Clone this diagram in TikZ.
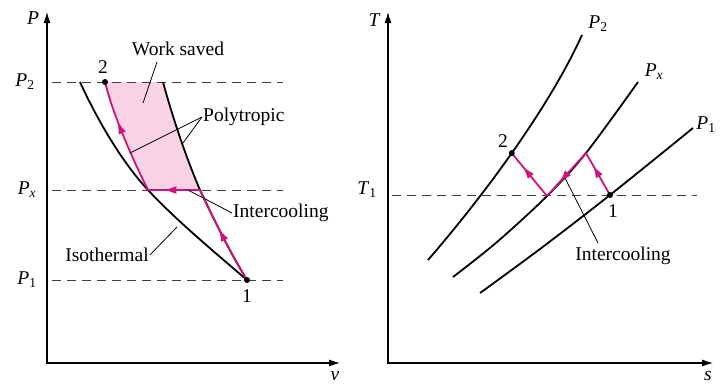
\documentclass[tikz,border=0pt]{standalone}
\usepackage{fontspec}
\setmainfont{Liberation Serif}
\usetikzlibrary{arrows.meta,decorations.markings}
\definecolor{pinkline}{RGB}{204,20,122}
\definecolor{pinkfill}{RGB}{249,210,229}
\tikzset{
  axis/.style={line width=1.1pt,{Latex[length=11pt,width=7pt]}-{Latex[length=11pt,width=7pt]}},
  curve/.style={line width=1.8pt,black},
  proc/.style={line width=1.8pt,pinkline},
  guide/.style={line width=0.9pt,dash pattern=on 9pt off 6pt,black!75},
  leader/.style={line width=0.8pt},
  lbl/.style={font=\fontsize{19.5}{21}\selectfont,inner sep=1pt},
  midarrow/.style={postaction={decorate},decoration={markings,mark=at position #1 with {\fill[pinkline] (5.5pt,0pt) -- (-5pt,3.8pt) -- (-5pt,-3.8pt) -- cycle;}}},
  dot/.style={circle,fill=black,inner sep=0pt,minimum size=6pt},
}
\begin{document}
\begin{tikzpicture}[x=1pt,y=-1pt]
\useasboundingbox (0,0) rectangle (720,384);
% ---------------- left panel (P-v) ----------------
\coordinate (Ltop) at (47,12);
\coordinate (Lo) at (47,363);
\coordinate (Lright) at (340,363);
\coordinate (p1) at (247,280);
\coordinate (pa) at (200,190);
\coordinate (pb) at (148,190);
\coordinate (p2) at (105,82);
\coordinate (pc) at (163,82);
\coordinate (iso0) at (80,82);
% shaded area
\fill[pinkfill] (p2) -- (pc) .. controls (172,115) and (185,155) .. (pa) -- (pb)
  .. controls (133,160) and (113,115) .. (p2) -- cycle;
% guides
\draw[guide] (52,82) coordinate (g2a) -- (283,82) coordinate (g2b);
\draw[guide] (52,190) coordinate (gxa) -- (283,190) coordinate (gxb);
\draw[guide] (52,280) coordinate (g1a) -- (283,280) coordinate (g1b);
% axes
\draw[axis] (Ltop) -- (Lo) -- (Lright);
\node[lbl,font=\fontsize{19.5}{21}\selectfont\itshape] (Plab) at (33,18) {P};
\node[lbl,font=\fontsize{19.5}{21}\selectfont\itshape] (vlab) at (335,376) {v};
\node[lbl] (P2lab) at (25,82) {\textit{P}\textsubscript{2}};
\node[lbl] (Pxlab) at (27,190) {\textit{P}\textsubscript{\textit{x}}};
\node[lbl] (P1lab) at (27,280) {\textit{P}\textsubscript{1}};
% isothermal
\draw[curve] (iso0) .. controls (95,115) and (120,160) .. (pb)
  .. controls (176,220) and (212,250) .. (p1);
% polytropic single stage
\draw[curve] (pc) .. controls (172,115) and (185,155) .. (pa)
  .. controls (215,222) and (230,252) .. (p1);
% process with intercooling
\draw[proc,midarrow=0.5] (p1) .. controls (230,252) and (215,222) .. (pa);
\draw[proc,midarrow=0.55] (pa) -- (pb);
\draw[proc,midarrow=0.58] (pb) .. controls (133,160) and (113,115) .. (p2);
\node[dot] (d1) at (p1) {};
\node[dot] (d2) at (p2) {};
\node[lbl] (n1) at (247,296) {1};
\node[lbl] (n2) at (103,67) {2};
% labels
\node[lbl] (ws) at (178,49) {Work saved};
\coordinate (wsend) at (143,103);
\draw[leader] (157,62) -- (wsend);
\node[lbl,anchor=west] (poly) at (202,117) {Polytropic};
\coordinate (polyA) at (130,153);
\coordinate (polyB) at (183,143);
\draw[leader] (poly.west) -- (polyA);
\draw[leader] (poly.west) -- (polyB);
\node[lbl,anchor=west] (ic1) at (232,213) {Intercooling};
\coordinate (ic1end) at (188,190);
\draw[leader] (ic1.west) -- (ic1end);
\node[lbl] (iso) at (107,255) {Isothermal};
\coordinate (isoend) at (177,227);
\draw[leader] (iso.east) -- (isoend);
% ---------------- right panel (T-s) ----------------
\coordinate (Rtop) at (388,12);
\coordinate (Ro) at (388,363);
\coordinate (Rright) at (713,363);
\coordinate (r1) at (610,195);
\coordinate (rA) at (586,153);
\coordinate (rB) at (547,196);
\draw[guide] (392,195) coordinate (gta) -- (697,195) coordinate (gtb);
\draw[axis] (Rtop) -- (Ro) -- (Rright);
\node[lbl,font=\fontsize{19.5}{21}\selectfont\itshape] (Tlab) at (374,20) {T};
\node[lbl,font=\fontsize{19.5}{21}\selectfont\itshape] (slab) at (708,376) {s};
\node[lbl] (T1lab) at (367,190) {\textit{T}\textsubscript{1}};
\draw[curve] (428,260) .. controls (480,200) and (548,110) .. coordinate[pos=0.5] (r2) (582,35);
\draw[curve] plot[smooth,tension=0.55] coordinates {(453,277) (497,242) (547,196) (586,153) (638,82)};
\draw[curve] plot[smooth,tension=0.55] coordinates {(480,293) (540,249) (610,195) (693,128)};
\node[lbl] (RP2) at (598,24) {\textit{P}\textsubscript{2}};
\node[lbl] (RPx) at (654,72) {\textit{P}\textsubscript{\textit{x}}};
\node[lbl] (RP1) at (706,125) {\textit{P}\textsubscript{1}};
\draw[proc,midarrow=0.55] (r1) -- (rA);
\draw[proc,midarrow=0.55] (rA) -- (rB);
\draw[proc,midarrow=0.55] (rB) -- (r2);
\node[dot] (rd1) at (r1) {};
\node[dot] (rd2) at (r2) {};
\node[lbl] (rn1) at (613,211) {1};
\node[lbl] (rn2) at (503,141) {2};
\node[lbl] (ic2) at (623,256) {Intercooling};
\coordinate (ic2end) at (565,178);
\draw[leader] (598,243) -- (ic2end);
\end{tikzpicture}
\end{document}
